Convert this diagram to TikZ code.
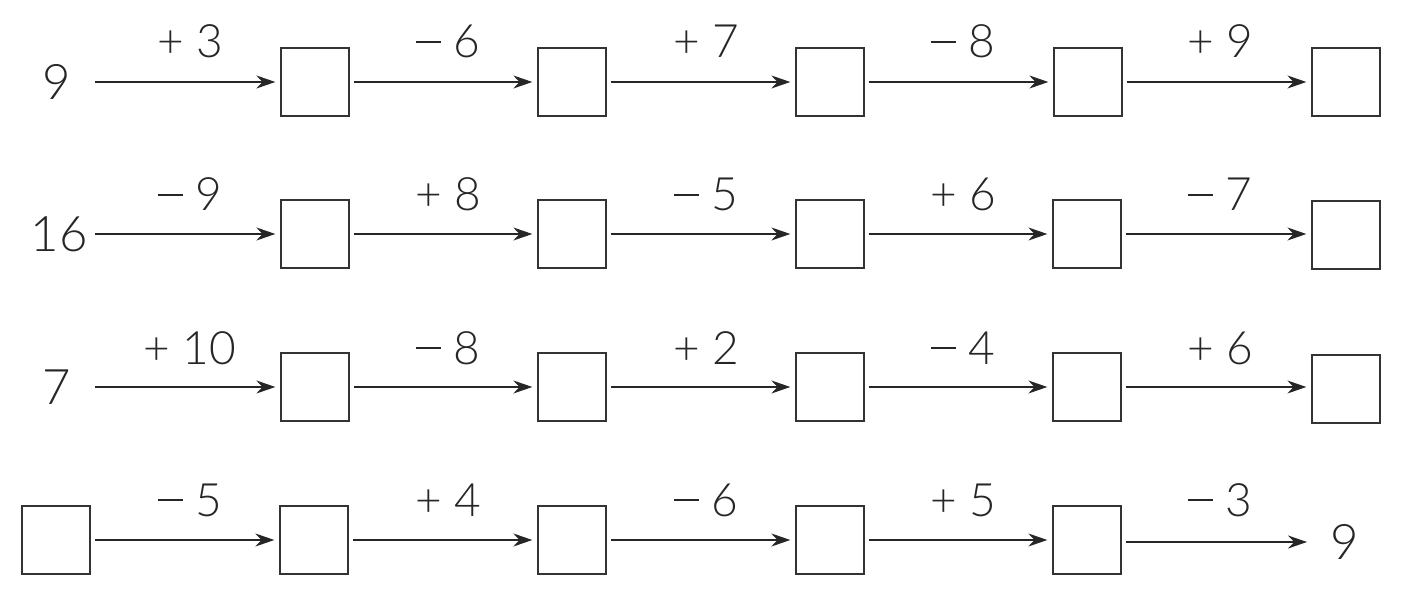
\documentclass[tikz,border=0pt]{standalone}
\usepackage{fontspec}
\setmainfont{Lato}[UprightFont={* Light}]
\usetikzlibrary{arrows.meta}
\newcommand{\mn}{\raisebox{0.335em}{\rule{0.55em}{0.045em}}}
\begin{document}
\begin{tikzpicture}[x=1pt,y=-1pt,
  cell/.style={draw=black!80,line width=1.3pt,minimum size=68pt,inner sep=0pt},
  num/.style={font=\fontsize{49}{52}\selectfont,text=black!85,inner sep=0pt},
  op/.style={font=\fontsize{46}{50}\selectfont,text=black!85,inner sep=0pt,anchor=base},
  link/.style={draw=black!85,line width=1.6pt,-{Stealth[length=19pt,width=13pt]},shorten >=5pt,shorten <=4pt}]
\useasboundingbox (0,0) rectangle (1407,593);
% row 1
\node[num] (s1) at (57,82) {9};
\coordinate (s1e) at (91,82);
\node[cell] (a1) at (315,82) {};
\node[cell] (a2) at (572,82) {};
\node[cell] (a3) at (830,82) {};
\node[cell] (a4) at (1088,82) {};
\node[cell] (a5) at (1346,82) {};
\draw[link] (s1e) -- (a1);
\draw[link] (a1) -- (a2);
\draw[link] (a2) -- (a3);
\draw[link] (a3) -- (a4);
\draw[link] (a4) -- (a5);
\node[op] (o11) at (190,58) {+ 3};
\node[op] (o12) at (448,58) {\mn\ 6};
\node[op] (o13) at (706,58) {+ 7};
\node[op] (o14) at (963,58) {\mn\ 8};
\node[op] (o15) at (1220,58) {+ 9};
% row 2
\node[num] (s2) at (59,234) {16};
\coordinate (s2e) at (91,234);
\node[cell] (b1) at (315,234) {};
\node[cell] (b2) at (572,234) {};
\node[cell] (b3) at (830,234) {};
\node[cell] (b4) at (1087,234) {};
\node[cell] (b5) at (1346,235) {};
\draw[link] (s2e) -- (b1);
\draw[link] (b1) -- (b2);
\draw[link] (b2) -- (b3);
\draw[link] (b3) -- (b4);
\draw[link] (b4) -- (b5.west |- b4);
\node[op] (o21) at (190,211) {\mn\ 9};
\node[op] (o22) at (448,211) {+ 8};
\node[op] (o23) at (706,211) {\mn\ 5};
\node[op] (o24) at (963,211) {+ 6};
\node[op] (o25) at (1220,211) {\mn\ 7};
% row 3
\node[num] (s3) at (57,387) {7};
\coordinate (s3e) at (91,387);
\node[cell] (c1) at (315,387) {};
\node[cell] (c2) at (572,387) {};
\node[cell] (c3) at (830,387) {};
\node[cell] (c4) at (1087,387) {};
\node[cell] (c5) at (1346,389) {};
\draw[link] (s3e) -- (c1);
\draw[link] (c1) -- (c2);
\draw[link] (c2) -- (c3);
\draw[link] (c3) -- (c4);
\draw[link] (c4) -- (c5.west |- c4);
\node[op] (o31) at (190,364) {+ 10};
\node[op] (o32) at (448,364) {\mn\ 8};
\node[op] (o33) at (706,364) {+ 2};
\node[op] (o34) at (963,364) {\mn\ 4};
\node[op] (o35) at (1220,364) {+ 6};
% row 4
\node[cell] (d0) at (56,540) {};
\node[cell] (d1) at (314,540) {};
\node[cell] (d2) at (572,540) {};
\node[cell] (d3) at (830,540) {};
\node[cell] (d4) at (1087,540) {};
\node[num] (e4) at (1345,542) {9};
\coordinate (e4w) at (1312,542);
\draw[link] (d0) -- (d1);
\draw[link] (d1) -- (d2);
\draw[link] (d2) -- (d3);
\draw[link] (d3) -- (d4);
\draw[link] (d4.east |- e4w) -- (e4w);
\node[op] (o41) at (190,516) {\mn\ 5};
\node[op] (o42) at (448,516) {+ 4};
\node[op] (o43) at (706,516) {\mn\ 6};
\node[op] (o44) at (963,516) {+ 5};
\node[op] (o45) at (1220,516) {\mn\ 3};
\end{tikzpicture}
\end{document}
